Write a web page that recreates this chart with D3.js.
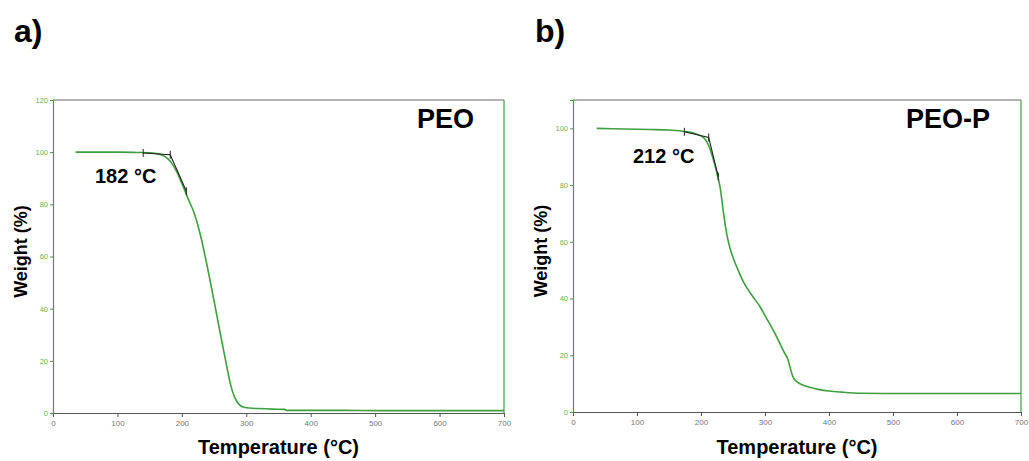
<!DOCTYPE html>
<html lang="en">
<head>
  <meta charset="UTF-8">
  <title>TGA curves PEO / PEO-P</title>
  <script src="https://d3js.org/d3.v7.min.js"></script>
  <style>
    body { margin: 0; background: #fff; font-family: "Liberation Sans", Arial, sans-serif; }
    .big { font-weight: bold; fill: #000; }
  </style>
</head>
<body>
  <div id="chart"></div>
  <script>
    // PEO (panel a)
    const tempsPEO   = [35, 60, 100, 130, 150, 160, 170, 178, 185, 192, 200, 210, 220, 230, 240, 250, 260, 270, 276, 282, 288, 295, 305, 320, 340, 360, 362, 400, 450, 500, 600, 700];
    const weightPEO  = [100, 100, 100, 99.9, 99.8, 99.5, 98.8, 97.5, 95.5, 92.5, 88, 82, 76, 67, 55.5, 43, 30, 17.5, 10.5, 6, 3.5, 2.3, 1.9, 1.7, 1.5, 1.4, 1.0, 1.0, 1.0, 0.9, 0.9, 0.9];
    const onsetPEO   = [[140, 99.7], [182, 99.0], [207, 85]];

    // PEO-P (panel b)
    const tempsPEOP  = [37, 80, 120, 150, 175, 195, 205, 212, 218, 224, 230, 235, 240, 245, 250, 258, 266, 280, 292, 305, 318, 330, 336, 340, 344, 350, 358, 370, 385, 400, 420, 450, 500, 700];
    const weightPEOP = [100, 99.8, 99.6, 99.4, 98.9, 97.8, 96.5, 94, 90, 85, 79, 70.5, 63, 58, 54.5, 50, 46, 41, 37.2, 32, 26.6, 21, 18.4, 15, 12.2, 10.6, 9.6, 8.7, 7.9, 7.4, 7.0, 6.6, 6.5, 6.5];
    const onsetPEOP  = [[174, 98.8], [212, 96.8], [227, 83]];

    const xTicks = [0, 100, 200, 300, 400, 500, 600, 700];
    const yTicksA = [0, 20, 40, 60, 80, 100, 120];
    const yTicksB = [0, 20, 40, 60, 80, 100];

    const green = "#3f9f3f";
    const svg = d3.select("#chart").append("svg")
      .attr("width", 1029).attr("height", 461);

    function drawPanel(p) {
      const x = d3.scaleLinear().domain([0, 700]).range([p.left, p.right]);
      const y = d3.scaleLinear().domain([0, p.yMax]).range([p.bottom, p.top]);
      const g = svg.append("g");

      // top frame (grey) and right frame (green)
      g.append("line").attr("x1", p.left).attr("x2", p.right).attr("y1", p.top).attr("y2", p.top)
        .attr("stroke", "#666").attr("stroke-width", 1.2);
      g.append("line").attr("x1", p.right).attr("x2", p.right).attr("y1", p.top).attr("y2", p.bottom)
        .attr("stroke", green).attr("stroke-width", 1.2);

      // x axis
      const minorX = d3.range(0, 701, 25).filter(v => v % 100 !== 0);
      const gx = g.append("g").attr("transform", `translate(0,${p.bottom})`);
      gx.call(d3.axisBottom(x).tickValues(minorX).tickSize(3).tickFormat(""));
      gx.call(d3.axisBottom(x).tickValues(xTicks).tickSize(4).tickPadding(3));
      gx.selectAll("path").attr("stroke", "#555");
      gx.selectAll("line").attr("stroke", "#555");
      gx.selectAll("text").attr("fill", "#777").style("font-size", "8px")
        .style("font-family", "Liberation Sans, Arial, sans-serif");

      // y axis
      const minorY = d3.range(0, p.yMax + 0.1, 5).filter(v => v % 20 !== 0);
      const gy = g.append("g").attr("transform", `translate(${p.left},0)`);
      gy.call(d3.axisLeft(y).tickValues(minorY).tickSize(2).tickFormat(""));
      gy.call(d3.axisLeft(y).tickValues(p.yTicks).tickSize(3).tickPadding(2));
      gy.selectAll("path").attr("stroke", green).attr("stroke-width", 1.2);
      gy.selectAll("line").attr("stroke", green);
      gy.selectAll("text").attr("fill", "#5cb85c").style("font-size", "7.5px")
        .style("font-family", "Liberation Sans, Arial, sans-serif");

      // curve
      const pts = p.temps.map((t, i) => [t, p.weights[i]]);
      const line = d3.line().x(d => x(d[0])).y(d => y(d[1])).curve(d3.curveMonotoneX);
      g.append("path").datum(pts).attr("d", line)
        .attr("fill", "none").attr("stroke", green).attr("stroke-width", 1.6);

      // onset tangents
      g.append("path").datum(p.onset)
        .attr("d", d3.line().x(d => x(d[0])).y(d => y(d[1])))
        .attr("fill", "none").attr("stroke", "#222").attr("stroke-width", 1.1);
      g.selectAll(".cross").data(p.onset).join("line")
        .attr("x1", d => x(d[0])).attr("x2", d => x(d[0]))
        .attr("y1", d => y(d[1]) - 4).attr("y2", d => y(d[1]) + 4)
        .attr("stroke", "#222").attr("stroke-width", 1);

      // labels
      svg.append("text").attr("class", "big").attr("x", p.tagX).attr("y", 42)
        .style("font-size", "32px").text(p.tag);
      svg.append("text").attr("class", "big").attr("x", p.nameX).attr("y", 128)
        .style("font-size", "27px").text(p.name);
      svg.append("text").attr("class", "big").attr("x", p.onsetX).attr("y", p.onsetY)
        .style("font-size", "20px").text(p.onsetText);
      svg.append("text").attr("class", "big")
        .attr("transform", `translate(${p.left - 26},${(p.top + p.bottom) / 2 - 5}) rotate(-90)`)
        .attr("text-anchor", "middle").style("font-size", "18px").text("Weight (%)");
      svg.append("text").attr("class", "big")
        .attr("x", (p.left + p.right) / 2).attr("y", 454)
        .attr("text-anchor", "middle").style("font-size", "20px").text("Temperature (°C)");
    }

    drawPanel({
      left: 53, right: 504, top: 100, bottom: 413, yMax: 120, yTicks: yTicksA,
      temps: tempsPEO, weights: weightPEO, onset: onsetPEO,
      tag: "a)", tagX: 14, name: "PEO", nameX: 417,
      onsetText: "182 °C", onsetX: 95, onsetY: 183
    });
    drawPanel({
      left: 573, right: 1021, top: 100, bottom: 412, yMax: 110, yTicks: yTicksB,
      temps: tempsPEOP, weights: weightPEOP, onset: onsetPEOP,
      tag: "b)", tagX: 535, name: "PEO-P", nameX: 906,
      onsetText: "212 °C", onsetX: 633, onsetY: 163
    });
  </script>
</body>
</html>
